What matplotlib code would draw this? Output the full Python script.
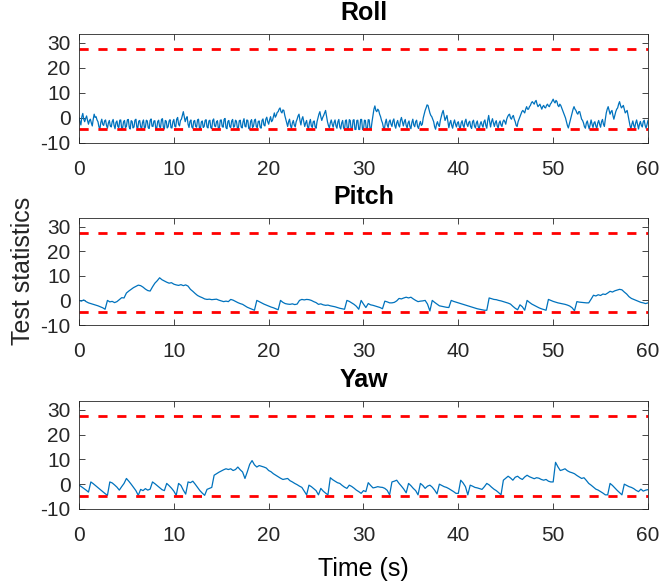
import numpy as np
import matplotlib
matplotlib.use("Agg")
import matplotlib.pyplot as plt

# test statistics
roll_dt = 0.1
roll = [
    0.0, -1.5, -2.8, 0.5, 1.8, -0.5, -1.5, -0.2, 0.8, -1.0,
    -2.5, -1.0, -0.5, -2.0, -3.2, -0.5, 1.5, 0.2, 0.5, -0.8,
    -1.5, -3.5, -4.5, -1.8, -0.5, -2.5, -3.0, -1.2, -0.8, -3.0,
    -4.1, -2.0, -1.0, -3.2, -3.6, -1.5, -0.6, -3.0, -4.3, -1.8,
    -1.2, -3.5, -3.8, -0.9, -0.8, -4.2, -4.0, -1.5, -1.0, -3.9,
    -3.4, -0.8, -0.6, -3.7, -4.4, -1.1, -1.4, -4.0, -3.6, -0.9,
    -0.5, -3.8, -4.0, -1.3, -1.0, -3.5, -4.5, -1.7, -0.8, -4.1,
    -3.7, -0.9, -1.2, -3.9, -4.2, -1.0, -0.4, -3.3, -3.4, -1.2,
    -1.1, -4.3, -4.1, -1.4, -0.9, -3.6, -3.8, -0.6, -0.3, -3.7,
    -4.4, -1.0, -1.3, -4.0, -3.5, -1.2, -0.7, -3.9, -4.0, -1.5,
    -0.6, -3.3, -3.6, -0.5, 0.2, -2.5, -3.2, -1.0, -0.5, 1.0,
    2.5, 0.5, -1.5, -0.2, 0.5, -2.5, -3.8, -1.4, -0.8, -3.6,
    -4.1, -1.3, -1.0, -3.4, -3.7, -0.8, -0.5, -4.0, -4.5, -1.6,
    -1.2, -3.8, -3.4, -1.0, -0.7, -3.6, -4.0, -1.2, -0.9, -3.9,
    -4.2, -1.0, -0.4, -3.2, -3.5, -1.5, -1.1, -4.3, -4.1, -0.9,
    -0.8, -3.4, -3.7, -0.6, -0.2, -3.9, -4.3, -1.4, -1.0, -3.5,
    -3.8, -1.2, -0.6, -3.7, -3.4, -0.9, -1.3, -4.0, -4.2, -1.1,
    -0.9, -3.6, -4.0, -1.5, -0.3, -3.3, -3.6, -0.8, -1.0, -4.2,
    -4.5, -1.3, -0.7, -3.8, -3.3, -1.0, -0.5, -3.5, -3.8, -1.4,
    -1.2, -3.7, -4.1, -1.0, -0.4, -2.8, -3.2, -0.5, 0.3, -1.5,
    -2.5, -0.8, 0.5, -1.5, -1.0, 0.5, 2.0, 0.3, 1.0, 2.2,
    2.5, 3.5, 4.0, 2.5, 2.0, 3.2, 3.0, 1.0, -0.5, -2.0,
    -3.4, -1.5, -0.5, -3.0, -4.1, -2.0, -1.0, -2.8, -3.6, -1.5,
    -0.5, 0.8, 1.5, -1.0, -2.8, -0.5, 0.5, -1.5, -3.4, -2.0,
    -1.0, -3.5, -4.3, -1.8, -0.6, -3.2, -3.8, -1.5, -1.2, -3.6,
    -4.1, -1.5, 0.0, 1.5, 2.5, 0.5, -1.0, 0.2, 1.0, 2.0,
    3.0, 0.8, -1.5, -3.0, -4.0, -2.0, -0.8, -2.5, -3.7, -1.8,
    -0.8, -3.2, -4.1, -1.5, -0.6, -3.6, -4.4, -2.0, -1.0, -4.0,
    -4.6, -1.0, -0.8, -4.6, -4.6, -0.7, -1.0, -4.6, -4.6, -0.9,
    -0.7, -4.6, -4.6, -1.0, -0.9, -4.6, -4.6, -0.6, -0.6, -4.6,
    -4.6, -0.9, -1.0, -4.6, -4.6, -0.7, -0.8, -4.6, -4.4, -1.5,
    1.0, 3.5, 4.8, 3.0, 2.5, 3.5, 3.0, 1.5, 0.5, -1.0,
    -2.0, -3.8, -4.5, -2.0, -0.5, -2.8, -3.8, -1.5, -0.8, -2.5,
    -3.4, -1.2, -0.4, -3.0, -4.1, -2.0, -1.0, -2.8, -3.6, -1.0,
    0.2, -1.5, -3.2, -1.5, -0.6, -3.0, -4.0, -2.0, -1.2, -3.5,
    -4.3, -1.8, -0.5, -2.8, -3.5, -1.5, -0.9, -3.4, -4.2, -2.5,
    -1.4, -3.0, -2.5, 0.0, 1.5, 3.0, 4.0, 5.2, 5.0, 3.5,
    2.0, 1.0, 0.5, -0.5, -1.5, -3.5, -4.5, -2.5, -1.5, -2.8,
    -3.4, -1.0, 0.5, 2.0, 3.0, 1.0, -1.0, 0.0, 1.0, -1.5,
    -3.9, -2.0, -1.0, -3.0, -4.1, -2.0, -0.8, -2.5, -3.6, -2.0,
    -1.5, -3.5, -4.3, -2.0, -1.1, -3.0, -3.8, -1.5, -0.5, -2.5,
    -3.4, -1.8, -1.3, -3.5, -4.2, -1.5, -0.9, -3.2, -4.0, -2.0,
    -1.2, -3.5, -4.4, -2.5, -1.5, -2.8, -3.7, -1.5, -0.8, -3.0,
    -4.1, -1.0, 1.0, -1.5, -3.6, -1.5, -0.3, -2.0, -3.4, -1.8,
    -1.1, -3.2, -4.0, -2.0, -1.2, -2.8, -3.4, -1.5, -0.8, -1.5,
    -2.5, -0.5, 0.5, 1.2, 1.5, 0.0, -0.5, 0.5, 1.0, -0.5,
    -1.5, -3.0, -3.4, -1.5, -0.5, 0.5, 1.5, 2.5, 3.0, 2.5,
    2.0, 3.5, 4.5, 3.5, 3.5, 4.5, 5.0, 6.0, 6.5, 6.0,
    5.5, 6.5, 7.0, 5.5, 4.5, 5.0, 5.5, 4.5, 3.5, 4.5,
    5.0, 4.2, 4.0, 5.0, 5.5, 4.8, 4.5, 5.5, 6.0, 6.8,
    7.5, 6.5, 6.0, 7.0, 6.5, 5.0, 4.5, 5.5, 5.0, 4.0,
    3.0, 2.0, 1.0, 0.0, -1.5, -3.0, -4.0, -2.5, -1.0, 0.5,
    2.0, 3.5, 4.5, 3.5, 3.0, 2.0, 1.5, 2.5, 2.5, 1.0,
    -0.5, -1.0, -2.0, -3.5, -4.1, -2.0, -1.2, -3.0, -4.4, -2.5,
    -0.8, -2.5, -3.8, -2.0, -1.5, -3.2, -4.2, -2.0, -1.0, -2.5,
    -3.7, -1.5, -0.6, -2.5, -3.4, -0.5, 2.0, 3.5, 4.5, 3.0,
    1.5, 2.5, 3.0, 1.0, -0.5, 1.0, 2.5, 3.5, 4.0, 5.5,
    6.5, 5.0, 4.0, 4.5, 5.0, 3.5, 2.0, 2.5, 3.0, 1.0,
    -1.0, -3.0, -4.3, -2.5, -1.2, -3.0, -4.0, -2.0, -0.8, -2.5,
    -4.4, -2.5, -1.4, -3.0, -3.6, -1.5, -0.9, -3.0, -4.1, -2.5,
    -1.0,
]

pitch_dt = 0.25
pitch = [
    0.0, -0.3, 0.2, -0.5,
    -1.0, -1.3, -1.6, -1.9,
    -2.2, -2.6, -3.0, -3.6,
    0.0, -0.6, -0.4, -0.9,
    -0.5, 0.3, 1.1, 1.0,
    3.0, 3.8, 4.5, 5.2,
    5.7, 6.2, 6.0, 5.4,
    4.6, 4.0, 3.8, 5.5,
    7.0, 8.0, 9.2, 8.4,
    7.9, 7.4, 7.0, 7.2,
    6.6, 6.3, 6.1, 6.4,
    6.0, 6.3, 5.8, 4.5,
    3.7, 2.8, 2.0, 1.5,
    1.1, 0.6, 0.4, 0.5,
    0.3, 0.4, 0.5, 0.1,
    -0.2, -0.5, -0.3, -0.5,
    0.4, 0.1, -0.4, -0.9,
    -1.3, -1.6, -2.2, -2.8,
    -3.2, -3.6, -4.0, 0.0,
    -0.5, -1.0, -1.5, -1.9,
    -2.3, -2.7, -3.0, -3.4,
    -3.8, 0.0, -0.8, -1.3,
    -1.5, -1.6, -1.4, -1.7,
    -1.5, 0.0, 0.4, 0.2,
    0.4, 0.3, 0.0, -0.5,
    -0.9, -1.6, -1.4, -1.8,
    -2.0, -1.9, -2.2, -2.4,
    -2.6, -2.9, -3.2, -3.4,
    -3.6, 0.0, -0.4, -1.0,
    -1.6, -2.4, -3.6, 0.0,
    -1.5, -2.9, -1.3, -1.8,
    -2.0, -2.3, -2.6, -2.9,
    -3.4, -0.3, -0.6, -1.0,
    -1.0, -0.8, -0.2, 0.8,
    0.6, 1.0, 1.3, 1.0,
    1.3, 0.6, 0.0, -0.5,
    -0.3, -0.2, 0.0, -1.5,
    -4.3, 0.0, -0.8, -1.5,
    -2.2, -2.4, -2.6, -2.8,
    -2.9, 0.0, -0.4, -0.7,
    -1.0, -1.3, -1.6, -1.9,
    -2.2, -2.5, -2.8, -3.1,
    -3.4, -3.6, -3.8, -4.0,
    -4.0, 1.0, 0.7, 0.4,
    0.3, 0.0, -0.2, -0.5,
    -0.8, -1.1, -1.5, -2.4,
    -3.2, -3.8, -1.8, -2.6,
    -4.0, 0.0, -0.8, -1.5,
    -2.0, -2.5, -3.0, -3.4,
    -3.7, -4.0, 0.4, 0.0,
    -0.4, -0.7, -1.0, -1.2,
    -1.4, -1.6, -1.9, -2.3,
    -3.0, -4.2, -0.5, -0.7,
    -0.8, -0.9, -1.0, -1.0,
    0.5, 2.1, 1.8, 2.3,
    2.0, 2.6, 2.4, 3.0,
    3.7, 3.4, 3.9, 4.2,
    4.5, 4.3, 3.4, 2.6,
    1.5, 0.8, 0.4, 0.0,
    -0.4, -0.8, -1.0, -1.3,
    -1.0,
]

yaw_dt = 0.25
yaw = [
    -0.4, -1.0, -1.7, -2.4,
    -3.2, 0.9, 0.2, -0.6,
    -1.4, -2.2, -3.0, -3.8,
    -4.5, 0.9, 0.5, -0.3,
    -1.2, -2.4, -1.0, 0.3,
    2.3, 1.2, 0.0, -1.3,
    -2.6, -4.5, -2.1, -2.6,
    -1.8, -2.4, -2.0, 0.9,
    0.2, -0.6, -1.4, -2.2,
    -2.6, 0.3, -0.6, -1.6,
    -2.8, -4.5, 0.3, -0.5,
    -2.4, -4.0, 0.9, 0.6,
    1.2, 0.0, -1.3, -2.6,
    -3.6, -4.5, -2.1, -1.7,
    -1.3, 3.6, 4.2, 4.8,
    5.3, 5.8, 6.2, 5.9,
    6.2, 5.5, 5.9, 6.9,
    5.8, 4.9, 2.3, 5.0,
    8.0, 9.5, 7.8, 6.9,
    7.5, 7.2, 6.9, 6.5,
    5.5, 5.0, 4.2, 3.6,
    3.0, 2.4, 1.9, 2.1,
    2.3, 1.4, 0.9, 0.3,
    -0.2, -0.8, -1.3, -2.8,
    -4.3, -0.4, -1.0, -1.8,
    -2.6, -4.3, -1.7, -2.8,
    -3.6, -4.3, 2.6, 1.8,
    1.2, 0.6, 0.3, -0.5,
    -1.2, -1.7, -0.4, -0.9,
    -1.6, -2.4, -3.0, -3.7,
    -2.6, -3.0, 0.6, -0.5,
    -1.5, -1.3, -1.0, -1.2,
    -1.3, -1.7, -2.5, -4.3,
    0.9, 1.2, 1.6, 0.3,
    -0.8, -2.0, -3.5, 0.3,
    -0.6, -1.7, -2.6, -4.3,
    0.3, -0.5, -1.7, -0.8,
    -0.4, -1.2, -2.4, -3.9,
    0.0, -0.5, -1.0, -1.3,
    -1.8, -2.4, -3.0, -3.7,
    -3.7, 1.6, 0.5, -1.0,
    -4.3, -0.4, -0.8, -1.3,
    -1.5, -1.8, -2.1, -1.0,
    0.3, -0.3, -1.2, -2.0,
    -2.6, -3.4, -4.3, 1.6,
    2.4, 3.2, 2.5, 1.6,
    2.8, 3.2, 2.4, 1.9,
    2.9, 3.6, 3.0, 2.6,
    2.2, 2.6, 2.4, 1.9,
    1.6, 1.9, 1.2, 0.9,
    0.9, 8.8, 7.0, 5.5,
    5.8, 6.2, 5.4, 4.9,
    4.6, 4.2, 3.5, 2.9,
    2.3, 2.6, 1.5, 0.3,
    -0.4, -1.2, -2.0, -2.4,
    -3.0, -3.6, -4.3, -4.3,
    0.3, -0.5, -1.5, -2.5,
    -3.4, -4.3, 0.0, -0.5,
    -1.0, -1.3, -1.8, -2.5,
    -3.0, -2.0, -2.8, -2.4,
    -2.2,
]

titles = ["Roll", "Pitch", "Yaw"]
upper_limit = 27.6
lower_limit = -4.6
t_end = 60

plt.rcParams['font.family'] = ['Liberation Sans', 'DejaVu Sans']
plt.rcParams['axes.unicode_minus'] = False

fig = plt.figure(figsize=(6.6, 5.81), dpi=100)
tops = [34, 218, 401]
bottoms = [143, 325, 509]
series = [(roll, roll_dt), (pitch, pitch_dt), (yaw, yaw_dt)]

axes = []
for k in range(3):
    b = 1 - bottoms[k] / 581
    h = (bottoms[k] - tops[k]) / 581
    ax = fig.add_axes([79 / 660, b, 569 / 660, h])
    vals, dt = series[k]
    t = np.arange(len(vals)) * dt
    ax.plot(t, vals, color='#0072BD', lw=0.9)
    for lim in (upper_limit, lower_limit):
        ax.plot([0, t_end], [lim, lim], color='#FF0000', lw=2,
                dashes=(3.3, 3.5), dash_capstyle='butt')
    ax.set_xlim(0, t_end)
    ax.set_ylim(-10, 33.5)
    ax.set_xticks(range(0, 61, 10))
    ax.set_yticks([-10, 0, 10, 20, 30])
    ax.tick_params(direction='in', length=4, width=0.6, top=True, right=True,
                   labelsize=15, colors='#262626')
    ax.tick_params(axis='x', pad=12)
    ax.tick_params(axis='y', pad=6)
    for s in ax.spines.values():
        s.set_color('#262626')
        s.set_linewidth(0.6)
    ax.set_title(titles[k], fontsize=18, fontweight='bold', pad=10)
    axes.append(ax)

axes[2].set_xlabel("Time (s)", fontsize=18, labelpad=9)
fig.text(23 / 660, 1 - 271 / 581, "Test statistics", rotation=90,
         fontsize=18, ha='center', va='center', color='#262626')

fig.savefig("out.png", dpi=100)
